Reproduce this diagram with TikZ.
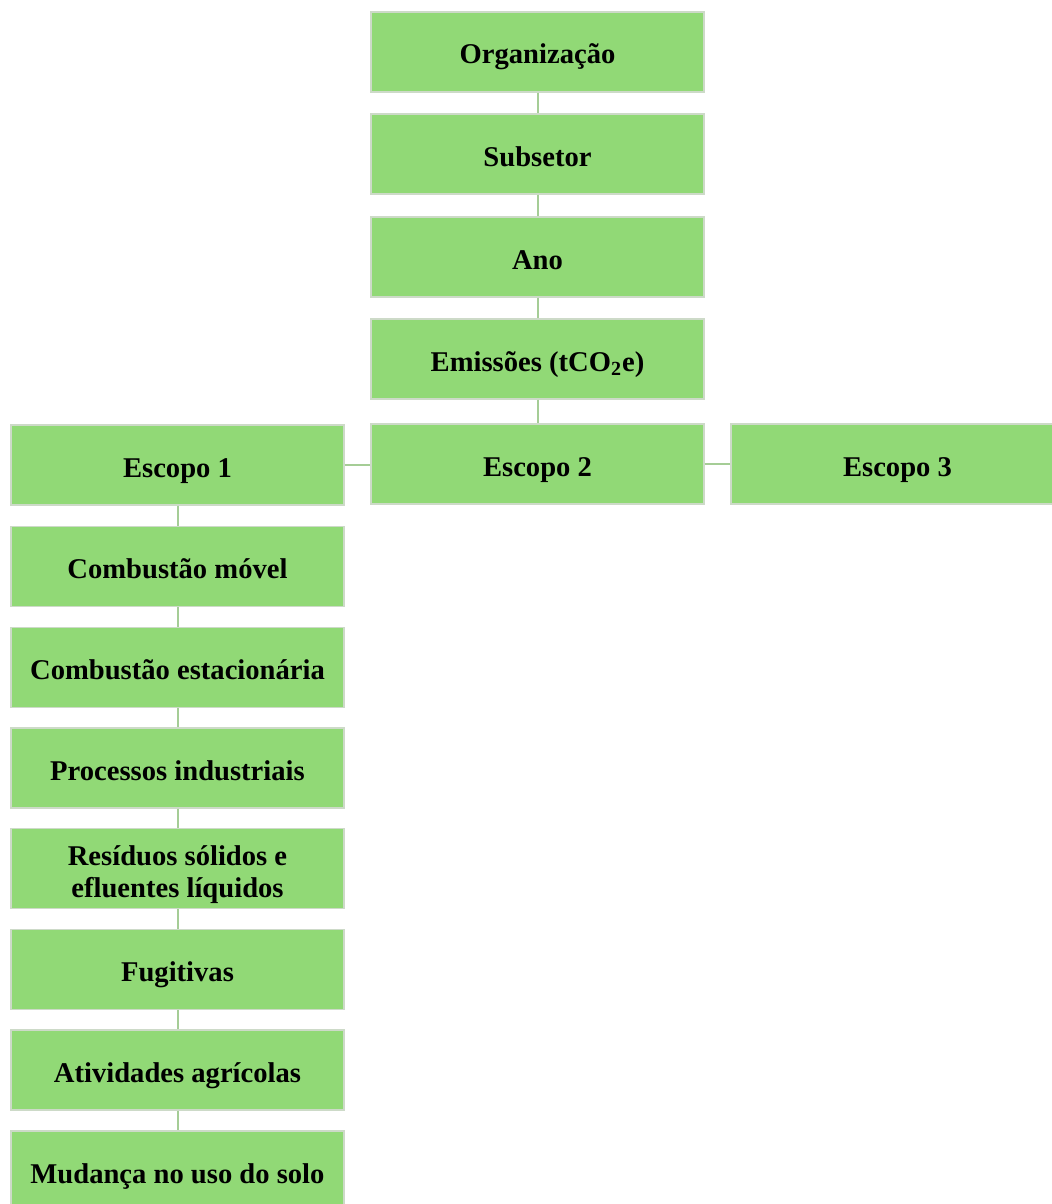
\documentclass[tikz,border=0pt]{standalone}
\usepackage{fontspec}
\setmainfont{Liberation Serif}
\definecolor{boxgreen}{RGB}{145,217,118}
\definecolor{boxedge}{RGB}{205,218,200}
\definecolor{linkgreen}{RGB}{165,205,150}
\newcommand{\boxstrut}{\rule[-3.5pt]{0pt}{19pt}}
\newcommand{\twolines}[2]{\raisebox{-3.5pt}[\height][\depth]{%
  \begin{tabular}{@{}c@{}}#1\\#2\end{tabular}}}
\tikzset{
  chartbox/.style={fill=boxgreen, draw=boxedge, line width=0.6pt,
    minimum width=166.5pt, minimum height=40pt, inner sep=0pt,
    font=\fontsize{14.3}{16}\selectfont\bfseries,
    execute at begin node=\boxstrut},
  link/.style={draw=linkgreen, line width=1pt}
}
\begin{document}
\begin{tikzpicture}[x=0.5pt,y=-0.5pt]
\clip (0,0) rectangle (1052,1204);
\fill[white] (0,0) rectangle (1052,1204);

% coluna central
\node[chartbox] (org) at (537.5,52) {Organização};
\node[chartbox] (sub) at (537.5,154) {Subsetor};
\node[chartbox] (ano) at (537.5,257) {Ano};
\node[chartbox] (emi) at (537.5,359) {Emissões (tCO\textsubscript{2}e)};

% escopos
\node[chartbox] (esc1) at (177.5,465) {Escopo 1};
\node[chartbox] (esc2) at (537.5,464) {Escopo 2};
\node[chartbox] (esc3) at (897.5,464) {Escopo 3};

% fontes do escopo 1
\node[chartbox] (comb) at (177.5,566.5) {Combustão móvel};
\node[chartbox] (est) at (177.5,667.5) {Combustão estacionária};
\node[chartbox] (proc) at (177.5,768) {Processos industriais};
\node[chartbox] (res) at (177.5,868.5) {\twolines{Resíduos sólidos e}{efluentes líquidos}};
\node[chartbox] (fug) at (177.5,969.5) {Fugitivas};
\node[chartbox] (agr) at (177.5,1070) {Atividades agrícolas};
\node[chartbox] (solo) at (177.5,1171) {Mudança no uso do solo};

\draw[link] (org) -- (sub);
\draw[link] (sub) -- (ano);
\draw[link] (ano) -- (emi);
\draw[link] (emi) -- (esc2);
\draw[link] (esc1.east) -- (esc1.east -| esc2.west);
\draw[link] (esc2.east) -- (esc2.east -| esc3.west);

\draw[link] (esc1) -- (comb);
\draw[link] (comb) -- (est);
\draw[link] (est) -- (proc);
\draw[link] (proc) -- (res);
\draw[link] (res) -- (fug);
\draw[link] (fug) -- (agr);
\draw[link] (agr) -- (solo);
\end{tikzpicture}
\end{document}
